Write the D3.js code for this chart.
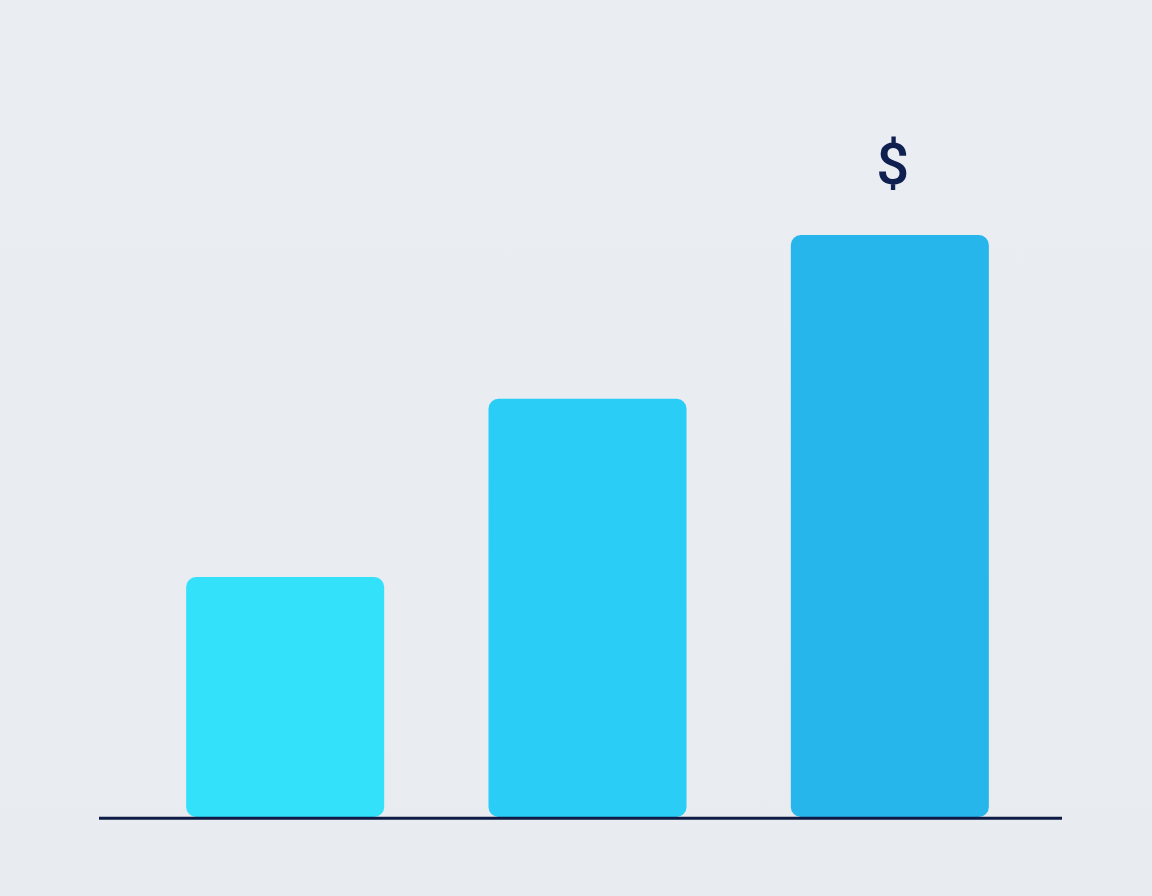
<!DOCTYPE html>
<html>
<head>
<meta charset="utf-8">
<script src="https://cdn.jsdelivr.net/npm/d3@7"></script>
<style>
  html, body { margin: 0; padding: 0; background: #e9ecf0; }
  svg { display: block; }
</style>
</head>
<body>
<div id="chart"></div>
<script>
// Chart data
const categories = ["A", "B", "C"];
const values = [40, 69.7, 97];
const barColors = ["#33e1fb", "#2acdf6", "#27b6eb"];
const markerLabel = "$";

const width = 1152;
const height = 896;

const svg = d3.select("#chart")
    .append("svg")
    .attr("width", width)
    .attr("height", height);

// Soft background
const defs = svg.append("defs");
const bg = defs.append("linearGradient")
    .attr("id", "bg")
    .attr("x1", 0).attr("y1", 0).attr("x2", 0).attr("y2", 1);
bg.append("stop").attr("offset", "0%").attr("stop-color", "#eaedf1");
bg.append("stop").attr("offset", "100%").attr("stop-color", "#e8ebef");

svg.append("rect")
    .attr("width", width)
    .attr("height", height)
    .attr("fill", "url(#bg)");

// Scales
const x = d3.scaleBand()
    .domain(categories)
    .range([134, 1041])
    .paddingInner(0.345)
    .paddingOuter(0.1725);

const y = d3.scaleLinear()
    .domain([0, 100])
    .range([817, 217]);

// Bars
svg.selectAll(".bar")
    .data(values)
    .enter()
    .append("rect")
    .attr("class", "bar")
    .attr("x", (d, i) => x(categories[i]))
    .attr("y", d => y(d))
    .attr("width", x.bandwidth())
    .attr("height", d => y(0) - y(d))
    .attr("rx", 10)
    .attr("ry", 10)
    .attr("fill", (d, i) => barColors[i]);

// Baseline
svg.append("line")
    .attr("x1", 99)
    .attr("x2", 1062)
    .attr("y1", y(0) + 1.3)
    .attr("y2", y(0) + 1.3)
    .attr("stroke", "#0d1b45")
    .attr("stroke-width", 3);

// Dollar marker above the tallest bar
const lastCat = categories[values.length - 1];
svg.append("text")
    .attr("x", x(lastCat) + x.bandwidth() / 2 + 3)
    .attr("y", y(values[values.length - 1]) - 51)
    .attr("text-anchor", "middle")
    .attr("fill", "#0f1f50")
    .style("font-family", "Roboto, sans-serif")
    .style("font-size", "58px")
    .style("font-weight", "500")
    .text(markerLabel);
</script>
</body>
</html>
